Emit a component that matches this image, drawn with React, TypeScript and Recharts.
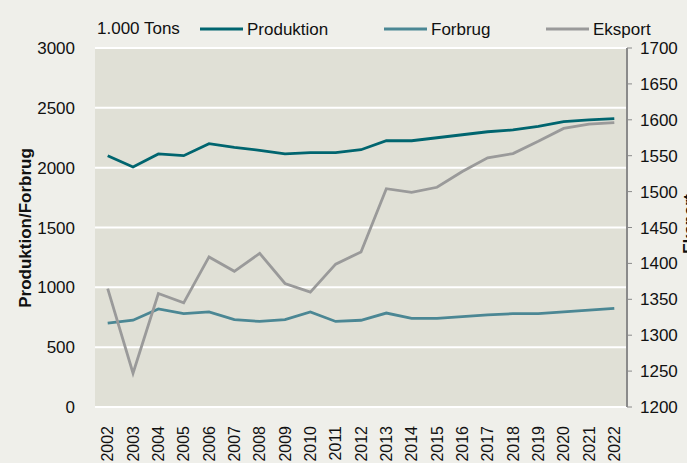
import React from "react";
import {
  CartesianGrid,
  Line,
  LineChart,
  XAxis,
  YAxis,
} from "recharts";

const YEARS = [
  "2002", "2003", "2004", "2005", "2006", "2007", "2008", "2009", "2010", "2011", "2012",
  "2013", "2014", "2015", "2016", "2017", "2018", "2019", "2020", "2021", "2022",
];
const PRODUKTION = [2100, 2005, 2115, 2100, 2200, 2170, 2145, 2115, 2125, 2125, 2150, 2225, 2225, 2250, 2275, 2300, 2315, 2345, 2385, 2400, 2410];
const FORBRUG = [700, 725, 820, 780, 795, 730, 715, 730, 795, 715, 725, 785, 740, 740, 755, 770, 780, 780, 795, 810, 825];
const EKSPORT = [1365, 1247, 1358, 1345, 1409, 1389, 1414, 1372, 1360, 1399, 1416, 1504, 1499, 1506, 1528, 1547, 1553, 1570, 1588, 1594, 1596];

const LEFT_TICKS = [0, 500, 1000, 1500, 2000, 2500, 3000];
const RIGHT_TICKS = [1200, 1250, 1300, 1350, 1400, 1450, 1500, 1550, 1600, 1650, 1700];

const C_PROD = "#00656f";
const C_FORB = "#4b8794";
const C_EKSP = "#9a9a9a";
const FONT = "'Liberation Sans', Arial, sans-serif";

const data = YEARS.map((y, i) => ({
  year: y,
  produktion: PRODUKTION[i],
  forbrug: FORBRUG[i],
  eksport: EKSPORT[i],
}));

const TICK = { fontSize: 17, fill: "#111", fontFamily: FONT };

function YearTick({ x, y, payload }: any) {
  return (
    <text
      x={x}
      y={y + 11}
      dy="0.35em"
      textAnchor="end"
      fontSize={16}
      fill="#111"
      fontFamily={FONT}
      transform={`rotate(-90, ${x}, ${y + 11})`}
    >
      {payload.value}
    </text>
  );
}

// rotated axis titles at fixed spots, like the original
function AxisTitle({ text, cx, cy, size }: { text: string; cx: number; cy: number; size: number }) {
  return (
    <text
      x={cx}
      y={cy}
      textAnchor="middle"
      fontSize={size}
      fontWeight={700}
      fill="#111"
      fontFamily={FONT}
      transform={`rotate(-90, ${cx}, ${cy})`}
    >
      {text}
    </text>
  );
}

function TopLegend() {
  const items = [
    { label: "Produktion", color: C_PROD, x: 200 },
    { label: "Forbrug", color: C_FORB, x: 384 },
    { label: "Eksport", color: C_EKSP, x: 546 },
  ];
  return (
    <svg width={687} height={46} style={{ position: "absolute", left: 0, top: 0 }}>
      <text x={97} y={34} fontSize={17} fill="#111" fontFamily={FONT}>
        1.000 Tons
      </text>
      {items.map((it) => (
        <g key={it.label}>
          <line x1={it.x} x2={it.x + 43} y1={29} y2={29} stroke={it.color} strokeWidth={3} />
          <text x={it.x + 47} y={35} fontSize={17} fill="#111" fontFamily={FONT}>
            {it.label}
          </text>
        </g>
      ))}
    </svg>
  );
}

export default function App() {
  return (
    <div
      style={{
        position: "absolute",
        left: 0,
        top: 0,
        width: 687,
        height: 463,
        background: "#efefea",
        overflow: "hidden",
      }}
    >
      <LineChart width={687} height={463} data={data} margin={{ top: 48, right: 0, bottom: 0, left: 0 }}>
        <CartesianGrid
          yAxisId="left"
          vertical={false}
          stroke="#ffffff"
          strokeWidth={2}
          fill="#e0e0d6"
          fillOpacity={1}
        />
        <XAxis
          dataKey="year"
          height={56}
          interval={0}
          padding={{ left: 12.7, right: 12.7 }}
          axisLine={{ stroke: "#ffffff", strokeWidth: 2 }}
          tickLine={false}
          tick={<YearTick />}
        />
        <YAxis
          yAxisId="left"
          width={95}
          domain={[0, 3000]}
          ticks={LEFT_TICKS}
          axisLine={false}
          tickLine={false}
          tick={TICK}
          tickMargin={14}
          label={{ content: () => <AxisTitle text="Produktion/Forbrug" cx={31} cy={228} size={17} /> }}
        />
        <YAxis
          yAxisId="right"
          orientation="right"
          width={60}
          domain={[1200, 1700]}
          ticks={RIGHT_TICKS}
          axisLine={{ stroke: "#8a8a8a", strokeWidth: 2 }}
          tickLine={{ stroke: "#8a8a8a" }}
          tickSize={5}
          tick={TICK}
          tickMargin={8}
          label={{ content: () => <AxisTitle text="Eksport" cx={695} cy={224} size={16} /> }}
        />
        <Line yAxisId="left" type="linear" dataKey="produktion" stroke={C_PROD} strokeWidth={2.8} dot={false} isAnimationActive={false} />
        <Line yAxisId="left" type="linear" dataKey="forbrug" stroke={C_FORB} strokeWidth={2.8} dot={false} isAnimationActive={false} />
        <Line yAxisId="right" type="linear" dataKey="eksport" stroke={C_EKSP} strokeWidth={2.8} dot={false} isAnimationActive={false} />
      </LineChart>
      <TopLegend />
    </div>
  );
}
